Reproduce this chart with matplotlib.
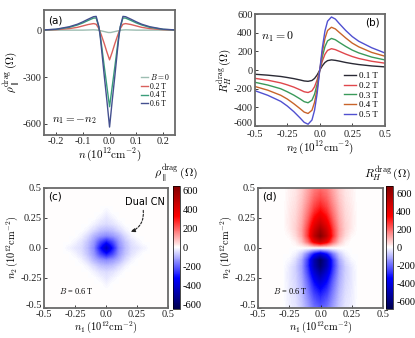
import numpy as np
import matplotlib
matplotlib.use('Agg')
import matplotlib.pyplot as plt

plt.rcParams['font.family'] = 'serif'
plt.rcParams['font.serif'] = ['Liberation Serif', 'DejaVu Serif']
plt.rcParams['mathtext.fontset'] = 'cm'
plt.rcParams['axes.unicode_minus'] = False

# ---- (a) longitudinal drag along n1 = -n2 (n >= 0, mirrored) ----
n_half = [0.0, 0.005, 0.01, 0.02, 0.03, 0.035, 0.04, 0.05, 0.06, 0.08, 0.10, 0.12, 0.15, 0.20, 0.25]
rho_B0 = [-15, -15, -13, -9, -5, -3, -1, 1, 2, 1, 0, 0, 0, 0, 0]
rho_B02 = [-190, -165, -140, -85, -35, -12, 10, 38, 42, 36, 27, 18, 10, 3, 0]
rho_B04 = [-490, -425, -360, -230, -95, -30, 20, 78, 77, 62, 46, 33, 18, 5, 1]
rho_B06 = [-620, -535, -450, -290, -120, -40, 22, 88, 86, 70, 53, 38, 22, 6, 1]
a_labels = ['$B = 0$', '0.2 T', '0.4 T', '0.6 T']
a_colors = ['#9dbdb2', '#d9605c', '#3a9d7a', '#44508f']

# ---- (b) Hall drag at n1 = 0 ----
n2_pos = [0.0, 0.02, 0.04, 0.06, 0.09, 0.12, 0.15, 0.20, 0.25, 0.30, 0.40, 0.50]
hall_pos = {
    '0.1 T': [0, 47, 82, 102, 110, 105, 97, 82, 70, 60, 45, 35],
    '0.2 T': [0, 98, 170, 212, 230, 220, 202, 172, 146, 125, 95, 75],
    '0.3 T': [0, 145, 252, 314, 340, 326, 298, 254, 215, 185, 140, 110],
    '0.4 T': [0, 195, 340, 425, 460, 442, 405, 345, 290, 250, 190, 150],
    '0.5 T': [0, 240, 420, 525, 570, 548, 500, 425, 360, 310, 240, 185],
}
hall_neg = {
    '0.1 T': [0, -51, -89, -111, -120, -116, -106, -91, -79, -68, -54, -44],
    '0.2 T': [0, -103, -178, -222, -240, -232, -212, -182, -158, -137, -108, -88],
    '0.3 T': [0, -150, -258, -322, -350, -338, -310, -268, -232, -200, -160, -130],
    '0.4 T': [0, -200, -345, -430, -465, -450, -415, -360, -310, -270, -215, -175],
    '0.5 T': [0, -250, -430, -535, -580, -560, -515, -445, -385, -335, -270, -220],
}
b_colors = ['#2a2a35', '#e0474c', '#3a9a5a', '#c8642a', '#5050d0']

# ---- (c) rho_parallel map, quadrant n1, n2 >= 0 in 0.05 steps ----
rho_quarter = np.array([
    [-450, -300, -150, -85, -45, -30, -15, 0],
    [-300, -230, -130, -75, -35, -15, 0, 0],
    [-150, -130, -95, -45, -15, 0, 0, 0],
    [-85, -75, -45, -15, 0, 0, 0, 0],
    [-45, -35, -15, 0, 0, 0, 0, 0],
    [-30, -15, 0, 0, 0, 0, 0, 0],
    [-15, 0, 0, 0, 0, 0, 0, 0],
    [0, 0, 0, 0, 0, 0, 0, 0],
], dtype=float)

# ---- (d) Hall map, columns n1 = 0..0.3 step 0.05 ----
# rows n2 = 0.0 .. 0.5
hall_map_pos = np.array([
    [0, 0, 0, 0, 0, 0, 0],
    [480, 380, 200, 80, 20, 0, 0],
    [670, 520, 280, 120, 50, 10, 0],
    [600, 470, 270, 130, 60, 25, 0],
    [500, 400, 240, 120, 60, 30, 0],
    [420, 340, 210, 110, 55, 30, 0],
    [350, 290, 185, 100, 50, 28, 0],
    [300, 250, 165, 90, 45, 25, 0],
    [260, 220, 145, 80, 40, 22, 0],
    [230, 195, 130, 72, 36, 20, 0],
    [200, 175, 118, 65, 32, 18, 0],
], dtype=float)
# rows n2 = -0.05 .. -0.5
hall_map_neg = np.array([
    [-420, -330, -180, -70, -18, 0, 0],
    [-640, -500, -270, -115, -45, -10, 0],
    [-620, -490, -280, -130, -60, -25, 0],
    [-540, -430, -255, -125, -60, -30, 0],
    [-460, -370, -225, -115, -58, -30, 0],
    [-390, -320, -200, -105, -52, -28, 0],
    [-335, -280, -180, -95, -48, -26, 0],
    [-290, -245, -160, -85, -42, -24, 0],
    [-255, -215, -142, -78, -38, -22, 0],
    [-225, -190, -128, -70, -34, -20, 0],
], dtype=float)

map_ticks = [-0.5, -0.25, 0.0, 0.25, 0.5]
map_ticklabels = ['-0.5', '-0.25', '0.0', '0.25', '0.5']
cbar_ticks = [-600, -400, -200, 0, 200, 400, 600]

spine_col = '#6a6a6a'
tick_fs = 7.5


def style(ax):
    for s in ax.spines.values():
        s.set_color(spine_col)
        s.set_linewidth(1.3)
    ax.tick_params(direction='in', length=2.5, width=0.6, labelsize=tick_fs, pad=1.5, colors='#222222')


def lift_bottom_ylabel(ax):
    # keep the lowest y tick label clear of the first x tick label
    ax.get_yticklabels()[0].set_va('baseline')


def mirror_cols(m):
    m = np.pad(m, ((0, 0), (0, 11 - m.shape[1])))
    return np.hstack([m[:, :0:-1], m])


fig = plt.figure(figsize=(4.15, 3.38), dpi=100)

# (a)
ax = fig.add_axes([0.106, 0.601, 0.316, 0.369])
nh = np.array(n_half)
n_full = np.concatenate([-nh[::-1], nh[1:]])
for vals, lab, col in zip([rho_B0, rho_B02, rho_B04, rho_B06], a_labels, a_colors):
    v = np.array(vals, dtype=float)
    ax.plot(n_full, np.concatenate([v[::-1], v[1:]]), color=col, lw=1.0, label=lab)
ax.set_xlim(-0.245, 0.245)
ax.set_ylim(-670, 128)
ax.set_xticks([-0.2, -0.1, 0.0, 0.1, 0.2])
ax.set_xticklabels(['-0.2', '-0.1', '0.0', '0.1', '0.2'])
ax.set_yticks([-600, -300, 0])
ax.set_yticklabels(['-600', '-300', '0'])
style(ax)
ax.set_xlabel(r'$n\,(10^{12}\mathrm{cm}^{-2})$', fontsize=8, labelpad=0)
ax.set_ylabel(r'$\rho_\parallel^{\mathrm{drag}}\,(\Omega)$', fontsize=8, labelpad=0)
ax.text(0.03, 0.96, '(a)', transform=ax.transAxes, ha='left', va='top', family='DejaVu Sans', fontsize=7.5)
ax.text(0.06, 0.07, r'$n_1 = -n_2$', transform=ax.transAxes, ha='left', va='bottom', fontsize=8)
ax.legend(loc='center right', bbox_to_anchor=(1.0, 0.36), fontsize=5.5, frameon=False,
          handlelength=0.8, handletextpad=0.3, labelspacing=0.1, borderpad=0.2)

# (b)
ax = fig.add_axes([0.614, 0.627, 0.313, 0.331])
n2p = np.array(n2_pos)
n2_full = np.concatenate([-n2p[::-1], n2p[1:]])
for (lab, pos), col in zip(hall_pos.items(), b_colors):
    neg = np.array(hall_neg[lab], dtype=float)
    ax.plot(n2_full, np.concatenate([neg[::-1], np.array(pos[1:], dtype=float)]), color=col, lw=1.0, label=lab)
ax.set_xlim(-0.5, 0.5)
ax.set_ylim(-600, 600)
ax.set_xticks([-0.5, -0.25, 0.0, 0.25, 0.5])
ax.set_xticklabels(['-0.5', '-0.25', '0.0', '0.25', '0.5'])
ax.set_yticks(cbar_ticks)
ax.set_yticklabels([str(t) for t in cbar_ticks])
style(ax)
ax.tick_params(axis='x', pad=3)
lift_bottom_ylabel(ax)
ax.set_xlabel(r'$n_2\,(10^{12}\mathrm{cm}^{-2})$', fontsize=8, labelpad=0)
ax.set_ylabel(r'$R_H^{\mathrm{drag}}\,(\Omega)$', fontsize=8, labelpad=0)
ax.text(0.96, 0.97, '(b)', transform=ax.transAxes, ha='right', va='top', family='DejaVu Sans', fontsize=7.5)
ax.text(0.05, 0.86, r'$n_1 = 0$', transform=ax.transAxes, ha='left', va='top', fontsize=8.5)
ax.legend(loc='lower right', bbox_to_anchor=(1.0, 0.0), fontsize=6.5, frameon=False,
          handlelength=1.3, handletextpad=0.3, labelspacing=0.15, borderpad=0.3)

# (c)
ax = fig.add_axes([0.106, 0.09, 0.299, 0.355])
q = mirror_cols(np.pad(rho_quarter, ((0, 3), (0, 0))))
rho_full = np.vstack([q[:0:-1, :], q])
im = ax.imshow(rho_full, origin='lower', extent=[-0.525, 0.525, -0.525, 0.525], cmap='seismic',
               vmin=-650, vmax=650, interpolation='bilinear', interpolation_stage='data', aspect='auto')
ax.set_xlim(-0.5, 0.5)
ax.set_ylim(-0.5, 0.5)
ax.set_xticks(map_ticks)
ax.set_xticklabels(map_ticklabels)
ax.set_yticks(map_ticks)
ax.set_yticklabels(map_ticklabels)
style(ax)
lift_bottom_ylabel(ax)
ax.set_xlabel(r'$n_1\,(10^{12}\mathrm{cm}^{-2})$', fontsize=7.5, labelpad=0)
ax.set_ylabel(r'$n_2\,(10^{12}\mathrm{cm}^{-2})$', fontsize=7.5, labelpad=0)
ax.text(0.03, 0.97, '(c)', transform=ax.transAxes, ha='left', va='top', family='DejaVu Sans', fontsize=7.5)
ax.text(-0.38, -0.36, r'$B$ = 0.6 T', fontsize=6, ha='left', va='center')
ax.text(0.31, 0.38, 'Dual CN', family='DejaVu Sans', fontsize=7, ha='center', va='center')
ax.annotate('', xy=(0.2, 0.13), xytext=(0.3, 0.31),
            arrowprops=dict(arrowstyle='-|>', linestyle=(0, (2, 1.5)), lw=0.8, color='#222222',
                            connectionstyle='arc3,rad=-0.35', mutation_scale=6, shrinkA=0, shrinkB=0))
cax = fig.add_axes([0.417, 0.085, 0.017, 0.366])
cb = fig.colorbar(im, cax=cax, ticks=cbar_ticks)
cb.ax.set_yticklabels([str(t) for t in cbar_ticks])
cb.ax.tick_params(labelsize=tick_fs, length=0, pad=2)
cb.outline.set_linewidth(0.5)
fig.text(0.425, 0.487, r'$\rho_\parallel^{\mathrm{drag}}\,(\Omega)$', fontsize=8.5, ha='center', va='center')

# (d)
ax = fig.add_axes([0.622, 0.09, 0.301, 0.355])
hall_full = np.vstack([mirror_cols(hall_map_neg)[::-1], mirror_cols(hall_map_pos)])
im = ax.imshow(hall_full, origin='lower', extent=[-0.525, 0.525, -0.525, 0.525], cmap='seismic',
               vmin=-690, vmax=690, interpolation='bilinear', interpolation_stage='data', aspect='auto')
ax.set_xlim(-0.5, 0.5)
ax.set_ylim(-0.5, 0.5)
ax.set_xticks(map_ticks)
ax.set_xticklabels(map_ticklabels)
ax.set_yticks(map_ticks)
ax.set_yticklabels(map_ticklabels)
style(ax)
lift_bottom_ylabel(ax)
ax.set_xlabel(r'$n_1\,(10^{12}\mathrm{cm}^{-2})$', fontsize=7.5, labelpad=0)
ax.set_ylabel(r'$n_2\,(10^{12}\mathrm{cm}^{-2})$', fontsize=7.5, labelpad=0)
ax.text(0.03, 0.97, '(d)', transform=ax.transAxes, ha='left', va='top', family='DejaVu Sans', fontsize=7.5)
ax.text(-0.38, -0.36, r'$B$ = 0.6 T', fontsize=6, ha='left', va='center')
cax = fig.add_axes([0.930, 0.085, 0.018, 0.366])
cb = fig.colorbar(im, cax=cax, ticks=cbar_ticks)
cb.ax.set_yticklabels([str(t) for t in cbar_ticks])
cb.ax.tick_params(labelsize=tick_fs, length=0, pad=2)
cb.outline.set_linewidth(0.5)
fig.text(0.935, 0.487, r'$R_H^{\mathrm{drag}}\,(\Omega)$', fontsize=8.5, ha='center', va='center')

fig.savefig('out.png', dpi=100)
